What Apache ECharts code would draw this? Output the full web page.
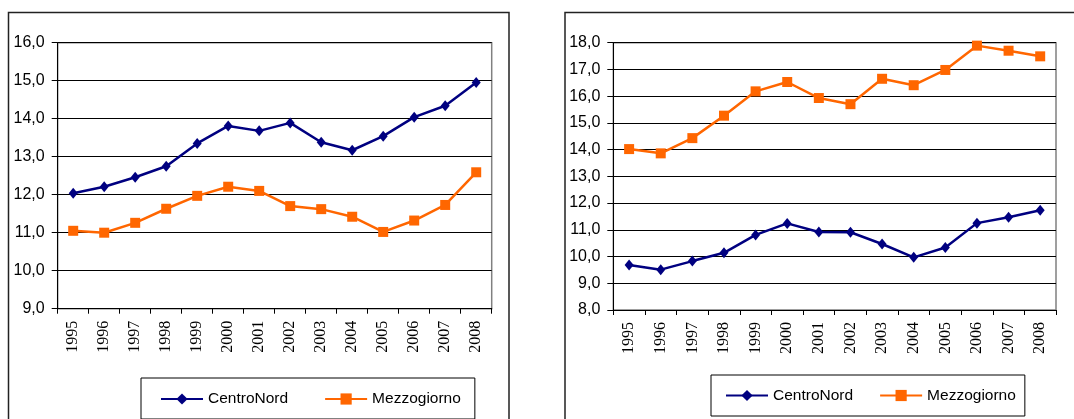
<!DOCTYPE html>
<html>
<head>
<meta charset="utf-8">
<script src="https://cdn.jsdelivr.net/npm/echarts@6/dist/echarts.min.js"></script>
<style>
html,body{margin:0;padding:0;background:#fff;}
#chart{width:1074px;height:419px;}
</style>
</head>
<body>
<div id="chart"></div>
<script>
const years = ['1995','1996','1997','1998','1999','2000','2001','2002','2003','2004','2005','2006','2007','2008'];
const leftCentroNord = [12.04, 12.21, 12.46, 12.75, 13.35, 13.81, 13.68, 13.89, 13.38, 13.17, 13.54, 14.04, 14.34, 14.95];
const leftMezzogiorno = [11.05, 11.00, 11.26, 11.63, 11.97, 12.21, 12.10, 11.70, 11.62, 11.42, 11.02, 11.32, 11.73, 12.59];
const rightCentroNord = [9.68, 9.51, 9.83, 10.14, 10.81, 11.24, 10.92, 10.91, 10.47, 9.97, 10.34, 11.25, 11.47, 11.73];
const rightMezzogiorno = [14.02, 13.86, 14.43, 15.27, 16.18, 16.53, 15.93, 15.70, 16.65, 16.41, 16.98, 17.89, 17.70, 17.49];
const seriesNames = ['CentroNord', 'Mezzogiorno'];
const leftRange = [9, 16];
const rightRange = [8, 18];

const BLUE = '#000080';
const ORANGE = '#FF6600';
const fmt = v => v.toFixed(1).replace('.', ',');

function xAxis(gridIndex) {
  return {
    type: 'category', gridIndex: gridIndex, data: years, boundaryGap: true,
    axisLine: { lineStyle: { color: '#000', width: 1 } },
    axisTick: { show: true, length: 5, lineStyle: { color: '#000' } },
    axisLabel: { rotate: 90, margin: 12, color: '#000', fontFamily: 'Liberation Serif', fontSize: 16, interval: 0 }
  };
}
function yAxis(gridIndex, range) {
  return {
    type: 'value', gridIndex: gridIndex, min: range[0], max: range[1], interval: 1,
    axisLine: { show: true, lineStyle: { color: '#000', width: 1 } },
    axisTick: { show: true, length: 6, lineStyle: { color: '#000' } },
    axisLabel: { formatter: fmt, color: '#000', fontFamily: 'Liberation Sans', fontSize: 16, margin: 13 },
    splitLine: { show: true, lineStyle: { color: '#000', width: 1 } }
  };
}
function lineSeries(name, data, idx, color, symbol, size) {
  return {
    name: name, type: 'line', xAxisIndex: idx, yAxisIndex: idx, data: data,
    symbol: symbol, symbolSize: size, showAllSymbol: true,
    lineStyle: { color: color, width: 2.5 },
    itemStyle: { color: color },
    emphasis: { disabled: true }, animation: false
  };
}
function legend(left, top, padding, gap) {
  return {
    data: seriesNames, left: left, top: top, orient: 'horizontal',
    itemWidth: 42, itemHeight: 14, itemGap: gap,
    padding: padding, borderColor: '#000', borderWidth: 1,
    textStyle: { fontFamily: 'Liberation Sans', fontSize: 15.5, color: '#000', lineHeight: 18 },
    selectedMode: false
  };
}

const chart = echarts.init(document.getElementById('chart'), null, { renderer: 'canvas' });
chart.setOption({
  animation: false,
  backgroundColor: '#fff',
  graphic: [
    { type: 'rect', shape: { x: 8.5, y: 12.5, width: 500.5, height: 420 }, style: { fill: 'none', stroke: '#222', lineWidth: 1.5 }, z: -10 },
    { type: 'rect', shape: { x: 565, y: 12.5, width: 520, height: 420 }, style: { fill: 'none', stroke: '#222', lineWidth: 1.5 }, z: -10 }
  ],
  grid: [
    { left: 57.7, top: 42.7, right: 582.3, bottom: 110.3, show: true, borderColor: '#808080', borderWidth: 1.5, backgroundColor: 'transparent' },
    { left: 613.3, top: 42.7, right: 18, bottom: 109, show: true, borderColor: '#808080', borderWidth: 1.5, backgroundColor: 'transparent' }
  ],
  xAxis: [xAxis(0), xAxis(1)],
  yAxis: [yAxis(0, leftRange), yAxis(1, rightRange)],
  legend: [
    legend(141, 378, [12, 14, 11, 19], 36),
    legend(711, 375, [11.5, 9, 11.5, 14], 26)
  ],
  series: [
    lineSeries(seriesNames[0], leftCentroNord, 0, BLUE, 'diamond', [9, 11]),
    lineSeries(seriesNames[1], leftMezzogiorno, 0, ORANGE, 'rect', 10),
    lineSeries(seriesNames[0], rightCentroNord, 1, BLUE, 'diamond', [9, 11]),
    lineSeries(seriesNames[1], rightMezzogiorno, 1, ORANGE, 'rect', 10)
  ]
});
</script>
</body>
</html>
